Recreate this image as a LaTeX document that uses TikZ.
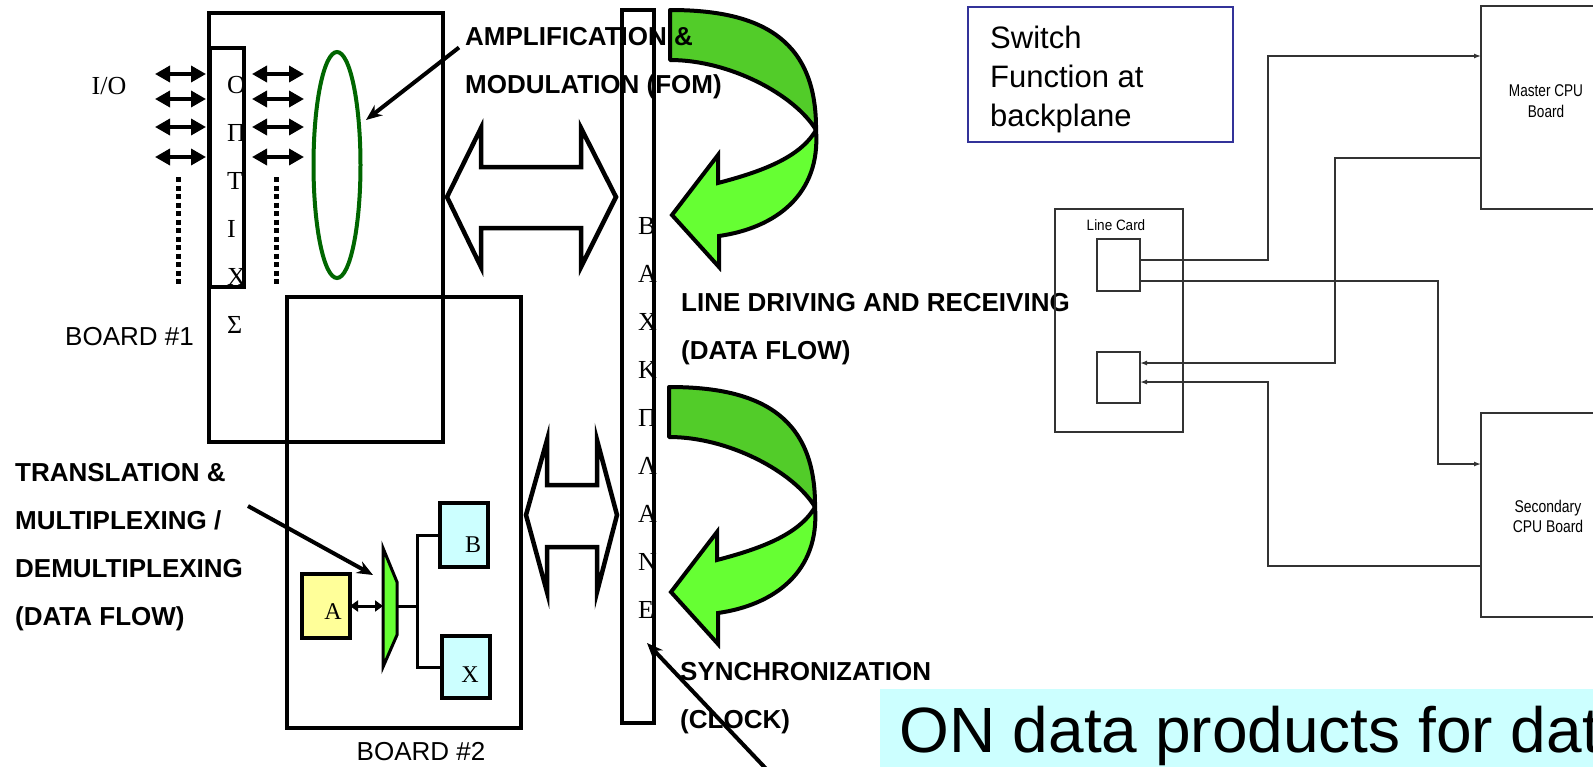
\documentclass[tikz,border=0pt]{standalone}
\usepackage{fontspec}
\setmainfont{Liberation Sans}
\newfontfamily\timesf{Liberation Serif}
\usepackage{graphicx}
\usetikzlibrary{arrows.meta,shapes.geometric}
\definecolor{ellgreen}{RGB}{0,102,0}
\definecolor{darkgr}{RGB}{82,204,41}
\definecolor{lightgr}{RGB}{102,255,51}
\definecolor{yellowA}{RGB}{255,255,153}
\definecolor{cyanB}{RGB}{204,255,255}
\definecolor{switchblue}{RGB}{51,51,153}
\definecolor{linegray}{RGB}{51,51,51}
\tikzset{
  curvarrow/.pic={
    \filldraw[fill=darkgr, line width=4pt, line join=round]
      (670,10) .. controls (755,10) and (817,35) .. (816,130)
      .. controls (795,95) and (730,60) .. (670,60) -- cycle;
    \filldraw[fill=lightgr, line width=4pt, line join=miter]
      (816,130) .. controls (821,195) and (775,228) .. (719,236)
      -- (719,267) -- (672,215) -- (718,155) -- (718,183)
      .. controls (760,172) and (800,158) .. (816,130) -- cycle;
  }
}
\begin{document}
\begin{tikzpicture}[x=1pt,y=-1pt,
  boardbox/.style={draw, line width=4pt, rectangle, inner sep=0pt, outer sep=0pt, anchor=north west},
  boldlbl/.style={font=\bfseries\fontsize{26}{48}\selectfont, align=left, inner sep=0pt, anchor=north west},
  serifcol/.style={font=\timesf\fontsize{26}{48}\selectfont, align=left, inner sep=0pt, anchor=north west},
  ioarrow/.style={line width=3.5pt, {Triangle[length=15pt,width=16pt]}-{Triangle[length=15pt,width=16pt]}},
  dotline/.style={line width=5pt, dash pattern=on 5pt off 3.5pt},
  pointer/.style={line width=4pt, -{Stealth[length=16pt,width=13pt]}},
  whitearrow/.style={draw, fill=white, line width=4.5pt, line join=miter},
  smallbox/.style={draw, line width=3.5pt, rectangle, inner sep=0pt, outer sep=0pt},
  wire/.style={line width=3pt},
  thinbox/.style={draw=linegray, line width=1.3pt, rectangle, inner sep=0pt, outer sep=0pt},
  thinwire/.style={draw=linegray, line width=1.3pt},
  thinarrow/.style={thinwire, -{Latex[length=7pt,width=5pt]}},
  plain26/.style={font=\fontsize{26}{30}\selectfont, inner sep=0pt},
]
\useasboundingbox (0,0) rectangle (1593,766);
\clip (0,0) rectangle (1593,766);

% ---------- boards ----------
\node[boardbox, minimum width=234pt, minimum height=429pt] (board1) at (209,13) {};
\node[boardbox, minimum width=34pt, minimum height=239pt] (optix) at (210,48) {};
\node[boardbox, minimum width=234pt, minimum height=431pt] (board2) at (287,297) {};
\node[boardbox, minimum width=32pt, minimum height=713pt] (bplane) at (622,10) {};

\node[serifcol] (optlet) at (227,76.5) {Ο\\Π\\Τ\\Ι\\Χ\\Σ};
\node[serifcol] (bpllet) at (638,217.5) {Β\\Α\\Χ\\Κ\\Π\\Λ\\Α\\Ν\\Ε};

\node[plain26, font=\timesf\fontsize{26}{30}\selectfont] (io) at (109,86) {I/O};
\node[plain26, anchor=west] (b1lbl) at (65,337) {BOARD \#1};
\node[plain26] (b2lbl) at (421,752) {BOARD \#2};

% I/O arrows
\foreach \yy in {74,99,127,157} {
  \draw[ioarrow] (155,\yy) -- (206,\yy);
  \draw[ioarrow] (252,\yy) -- (304,\yy);
}
\draw[dotline] (178,177) -- (178,284);
\draw[dotline] (276,177) -- (276,284);

% lens ellipse
\node[ellipse, draw=ellgreen, line width=4pt, minimum width=47pt, minimum height=226pt, inner sep=0pt] (ell) at (337,165) {};
\coordinate (ellTip) at (366,120);

% white double arrows
\draw[whitearrow] (447,197) -- (481,128) -- (481,167) -- (581,167) -- (581,128) -- (616,197)
  -- (581,267) -- (581,228) -- (481,228) -- (481,267) -- cycle;
\draw[whitearrow] (526,515) -- (547,440) -- (547,485) -- (597,485) -- (597,440) -- (617,515)
  -- (597,592) -- (597,547) -- (547,547) -- (547,592) -- cycle;

% green curved arrows
\pic at (0,0) {curvarrow};
\pic at (-1,377) {curvarrow};

% labels (on top of the arrows)
\node[boldlbl] (amp) at (465,27.5) {AMPLIFICATION \&\\MODULATION (FOM)};
\node[boldlbl] (ldr) at (681,293.5) {LINE DRIVING AND RECEIVING\\(DATA FLOW)};
\node[boldlbl] (sync) at (680,662.5) {SYNCHRONIZATION\\(CLOCK)};
\node[boldlbl] (trans) at (15,463.5) {TRANSLATION \&\\MULTIPLEXING /\\DEMULTIPLEXING\\(DATA FLOW)};

\draw[pointer] ([shift={(-6,20)}]amp.north west) -- (ellTip);

% clock pointer
\coordinate (clkTail) at (771,774);
\coordinate (clkTip) at (647,643);
\draw[pointer] (clkTail) -- (clkTip);

% ---------- board 2 contents ----------
\node[smallbox, fill=yellowA, minimum width=48pt, minimum height=64pt] (boxA) at (326,606) {};
\node[smallbox, fill=cyanB, minimum width=48pt, minimum height=64pt] (boxB) at (464,535) {};
\node[smallbox, fill=cyanB, minimum width=48pt, minimum height=62pt] (boxX) at (466,667) {};
\node[inner sep=0pt, font=\timesf\fontsize{24}{26}\selectfont] (lblA) at (333,612) {A};
\node[inner sep=0pt, font=\timesf\fontsize{24}{26}\selectfont] (lblB) at (473,545) {B};
\node[inner sep=0pt, font=\timesf\fontsize{24}{26}\selectfont] (lblX) at (470,675) {X};

\filldraw[fill=lightgr, line width=3pt, line join=miter] (383,548) -- (397,582) -- (397,635) -- (383,667) -- cycle;
\coordinate (muxin) at (383,606);
\coordinate (muxout) at (397,606);
\draw[wire] (muxout) -- (muxout -| 417,0);
\draw[wire] (boxB.west) -| (417,0 |- boxX.west) -- (boxX.west);
\draw[line width=3pt, {Triangle[length=8pt,width=11pt]}-{Triangle[length=8pt,width=11pt]}] (boxA.east) -- (muxin);

\coordinate (transTail) at (248,506);
\coordinate (muxTip) at (373,575);
\draw[pointer] (transTail) -- (muxTip);

% ---------- right diagram ----------
\node[draw=switchblue, line width=2.5pt, rectangle, inner sep=0pt, outer sep=0pt, anchor=north west,
  minimum width=265pt, minimum height=135pt] (switchbox) at (968,7) {};
\node[font=\fontsize{31}{39}\selectfont, align=left, inner sep=0pt, anchor=north west] (switchtxt) at (990,26)
  {Switch\\Function at\\backplane};

\node[thinbox, anchor=north west, minimum width=128pt, minimum height=223pt] (lc) at (1055,209) {};
\node[inner sep=0pt, font=\fontsize{15}{18}\selectfont] (lclbl) at (1116,225) {\scalebox{0.9}[1]{Line Card}};
\node[thinbox, anchor=north west, minimum width=43pt, minimum height=52pt] (p1) at (1097,239) {};
\node[thinbox, anchor=north west, minimum width=43pt, minimum height=51pt] (p2) at (1097,352) {};
\node[thinbox, anchor=north west, minimum width=130pt, minimum height=203pt] (mcpu) at (1481,6) {};
\node[thinbox, anchor=north west, minimum width=130pt, minimum height=204pt] (scpu) at (1481,413) {};
\node[inner sep=0pt, align=center, font=\fontsize{17}{21}\selectfont] (mlbl) at (1546,101)
  {\scalebox{0.8}[1]{Master CPU}\\\scalebox{0.8}[1]{Board}};
\node[inner sep=0pt, align=center, font=\fontsize{17}{20}\selectfont] (slbl) at (1548,516)
  {\scalebox{0.82}[1]{Secondary}\\\scalebox{0.82}[1]{CPU Board}};

\draw[thinarrow] (p1.east |- 0,260) -| (1268,56) -- (mcpu.west |- 0,56);
\draw[thinarrow] (p1.east |- 0,281) -| (1438,464) -- (scpu.west |- 0,464);
\draw[thinarrow] (mcpu.west |- 0,158) -| (1335,363) -- (p2.east |- 0,363);
\draw[thinarrow] (scpu.west |- 0,566) -| (1268,382) -- (p2.east |- 0,382);

% ---------- banner ----------
\node[fill=cyanB, anchor=north west, minimum width=720pt, minimum height=80pt, inner sep=0pt, outer sep=0pt] (banner) at (880,689) {};
\node[inner sep=0pt, anchor=base west, font=\fontsize{64}{70}\selectfont] (bantxt) at (899,752) {ON data products for dat};
\end{tikzpicture}
\end{document}
